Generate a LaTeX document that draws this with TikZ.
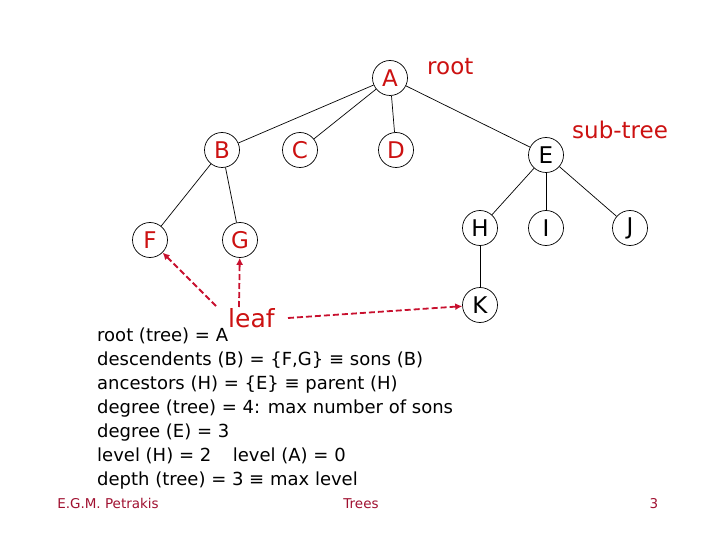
\documentclass[tikz,border=0pt]{standalone}
\usepackage{fontspec}
\setmainfont{DejaVu Sans}
\usetikzlibrary{arrows.meta}
\definecolor{nodered}{HTML}{CC1111}
\definecolor{arrred}{HTML}{C8102E}
\definecolor{footred}{HTML}{A01030}
\tikzset{
  tnode/.style={circle,draw=black,line width=0.7pt,minimum size=35pt,inner sep=0pt,font=\fontsize{23}{23}\selectfont},
  rednode/.style={tnode,text=nodered},
  edge/.style={draw=black,line width=0.7pt},
  leafarrow/.style={draw=arrred,dash pattern=on 6pt off 3pt,line width=1.8pt,-{Latex[length=7pt,width=7pt]}},
  body/.style={anchor=base west,inner sep=0pt,font=\fontsize{18}{18}\selectfont},
  redlabel/.style={anchor=base west,inner sep=0pt,text=nodered,font=\fontsize{23}{23}\selectfont},
  foot/.style={anchor=base,inner sep=0pt,text=footred,font=\fontsize{13.5}{13.5}\selectfont}
}
\begin{document}
\begin{tikzpicture}[x=1pt,y=-1pt]
\useasboundingbox (0,0) rectangle (720,540);
\node[rednode] (A) at (390,78) {A};
\node[rednode] (B) at (222,150) {B};
\node[rednode] (C) at (300,150) {C};
\node[rednode] (D) at (396,150) {D};
\node[tnode] (E) at (546,155) {E};
\node[rednode] (F) at (150,240) {F};
\node[rednode] (G) at (240,240) {G};
\node[tnode] (H) at (480,228) {H};
\node[tnode] (I) at (546,228) {I};
\node[tnode] (J) at (630,228) {J};
\node[tnode] (K) at (480,305) {K};
\draw[edge] (A) -- (B);
\draw[edge] (A) -- (C);
\draw[edge] (A) -- (D);
\draw[edge] (A) -- (E);
\draw[edge] (B) -- (F);
\draw[edge] (B) -- (G);
\draw[edge] (E) -- (H);
\draw[edge] (E) -- (I);
\draw[edge] (E) -- (J);
\draw[edge] (H) -- (K);
\node[redlabel] (root) at (427,75) {root};
\node[redlabel] (subtree) at (572,139) {sub-tree};
\node[redlabel,font=\fontsize{25}{25}\selectfont] (leaf) at (228,327) {leaf};
\coordinate (l1) at (216,306);
\coordinate (l2) at (239,307);
\coordinate (l3) at (288,318);
\draw[leafarrow] (l1) -- (F);
\draw[leafarrow] (l2) -- (G);
\draw[leafarrow] (l3) -- (K);
\node[body] (t1) at (97,341) {root (tree) = A};
\node[body] (t2) at (97,365) {descendents (B) = \{F,G\} ≡ sons (B)};
\node[body] (t3) at (97,389) {ancestors (H) = \{E\} ≡ parent (H)};
\node[body] (t4) at (97,413) {degree (tree) = 4: max number of sons};
\node[body] (t5) at (97,437) {degree (E) = 3};
\node[body] (t6) at (97,461) {level (H) = 2\hspace{1.2em}level (A) = 0};
\node[body] (t7) at (97,485) {depth (tree) = 3 ≡ max level};
\node[foot] (f1) at (108,508) {E.G.M. Petrakis};
\node[foot] (f2) at (361,508) {Trees};
\node[foot] (f3) at (654,508) {3};
\end{tikzpicture}
\end{document}
